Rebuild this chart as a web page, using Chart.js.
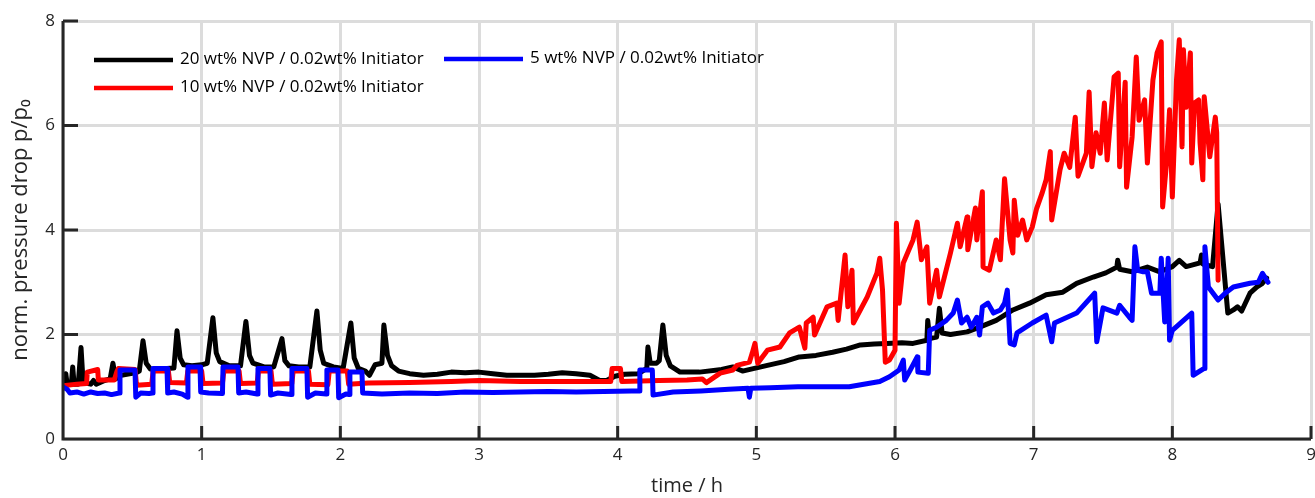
<!DOCTYPE html>
<html>
<head>
<meta charset="utf-8">
<script src="https://cdn.jsdelivr.net/npm/chart.js@4.4.1/dist/chart.umd.min.js"></script>
<style>
  html, body { margin: 0; padding: 0; background: #fff; }
  #wrap { width: 1315px; height: 498px; position: relative; }
</style>
</head>
<body>
<div id="wrap"><canvas id="pressure"></canvas></div>
<script>
// norm. pressure drop over time, three NVP concentrations

const xTicks = [0, 1, 2, 3, 4, 5, 6, 7, 8, 9];
const yTicks = [0, 2, 4, 6, 8];

const labelBlack = '20 wt% NVP / 0.02wt% Initiator';
const labelRed = '10 wt% NVP / 0.02wt% Initiator';
const labelBlue = '5 wt% NVP / 0.02wt% Initiator';

// 20 wt% NVP
const timeBlack = [0, 0.01, 0.02, 0.03, 0.06, 0.07, 0.08, 0.11, 0.13, 0.145, 0.2, 0.22, 0.24, 0.3, 0.34, 0.36, 0.38, 0.42, 0.48, 0.53, 0.55,
  0.577, 0.6, 0.63, 0.68, 0.75, 0.8, 0.822, 0.845, 0.87, 0.93, 1.0, 1.04, 1.081, 1.105, 1.13, 1.2, 1.28, 1.319, 1.345, 1.37, 1.45, 1.52,
  1.579, 1.6, 1.63, 1.7, 1.78, 1.831, 1.855, 1.88, 1.95, 2.02, 2.076, 2.1, 2.13, 2.18, 2.21, 2.25, 2.3, 2.314, 2.34, 2.37, 2.42, 2.5,
  2.6, 2.7, 2.8, 2.9, 3.0, 3.1, 3.2, 3.3, 3.4, 3.5, 3.6, 3.7, 3.8, 3.87, 3.92, 3.98, 4.05, 4.15, 4.21, 4.218, 4.235, 4.28, 4.3, 4.326,
  4.35, 4.38, 4.45, 4.59, 4.75, 4.83, 4.9, 5.08, 5.2, 5.31, 5.43, 5.55, 5.65, 5.75, 5.85, 5.94, 6.05, 6.13, 6.23, 6.236, 6.25, 6.3,
  6.32, 6.34, 6.4, 6.52, 6.61, 6.73, 6.85, 6.97, 7.09, 7.21, 7.31, 7.43, 7.52, 7.6, 7.606, 7.62, 7.71, 7.82, 7.91, 8.0, 8.05, 8.1,
  8.2, 8.21, 8.22, 8.29, 8.33, 8.4, 8.44, 8.47, 8.5, 8.56, 8.61, 8.65, 8.68];
const valueBlack = [1.05, 1.08, 1.25, 1.05, 1.05, 1.38, 1.05, 1.05, 1.75, 1.08, 1.05, 1.12, 1.05, 1.12, 1.15, 1.45, 1.15, 1.22, 1.25, 1.27, 1.3,
  1.88, 1.45, 1.34, 1.33, 1.35, 1.36, 2.07, 1.55, 1.42, 1.4, 1.42, 1.45, 2.32, 1.65, 1.48, 1.4, 1.4, 2.25, 1.6, 1.45, 1.38, 1.38,
  1.92, 1.5, 1.4, 1.38, 1.38, 2.45, 1.7, 1.45, 1.38, 1.35, 2.22, 1.55, 1.35, 1.3, 1.22, 1.42, 1.45, 2.18, 1.6, 1.4, 1.3, 1.25,
  1.22, 1.24, 1.28, 1.27, 1.28, 1.25, 1.22, 1.22, 1.22, 1.24, 1.27, 1.25, 1.22, 1.12, 1.12, 1.2, 1.24, 1.25, 1.35, 1.76, 1.45, 1.45, 1.5, 2.18,
  1.6, 1.4, 1.28, 1.28, 1.33, 1.38, 1.3, 1.41, 1.48, 1.57, 1.6, 1.66, 1.72, 1.8, 1.82, 1.83, 1.84, 1.83, 1.89, 2.27, 1.92, 1.95,
  2.5, 2.03, 2.0, 2.05, 2.14, 2.27, 2.47, 2.6, 2.76, 2.81, 2.98, 3.1, 3.18, 3.29, 3.42, 3.25, 3.2, 3.29, 3.2, 3.3, 3.42, 3.3,
  3.37, 3.52, 3.35, 3.3, 4.5, 2.41, 2.47, 2.53, 2.45, 2.79, 2.91, 2.98, 3.08];

// 10 wt% NVP
const timeRed = [0, 0.1, 0.17, 0.175, 0.25, 0.255, 0.37, 0.39, 0.4, 0.52, 0.53, 0.64, 0.65, 0.76, 0.77, 0.89, 0.9, 1.0, 1.01, 1.15, 1.16,
  1.27, 1.28, 1.4, 1.41, 1.5, 1.51, 1.65, 1.66, 1.77, 1.78, 1.91, 1.92, 2.05, 2.06, 2.2, 2.5, 2.8, 3.0, 3.3, 3.6, 3.8, 3.95, 3.96,
  4.02, 4.03, 4.3, 4.5, 4.61, 4.64, 4.74, 4.83, 4.86, 4.95, 4.97, 4.99, 5.01, 5.08, 5.17, 5.24, 5.31, 5.35, 5.36, 5.41, 5.42, 5.51,
  5.58, 5.59, 5.64, 5.66, 5.69, 5.7, 5.8, 5.87, 5.89, 5.91, 5.93, 5.96, 6.0, 6.01, 6.03, 6.06, 6.13, 6.16, 6.19, 6.23, 6.25, 6.3,
  6.32, 6.4, 6.45, 6.47, 6.52, 6.525, 6.58, 6.59, 6.63, 6.635, 6.68, 6.73, 6.76, 6.79, 6.83, 6.85, 6.86, 6.885, 6.92, 6.95, 6.99,
  7.02, 7.06, 7.09, 7.12, 7.13, 7.19, 7.22, 7.26, 7.3, 7.32, 7.38, 7.4, 7.42, 7.45, 7.48, 7.51, 7.53, 7.58, 7.61, 7.62, 7.66, 7.67,
  7.71, 7.74, 7.76, 7.8, 7.82, 7.86, 7.89, 7.92, 7.93, 7.96, 7.98, 8.0, 8.03, 8.05, 8.07, 8.08, 8.1, 8.13, 8.14, 8.16, 8.19, 8.2,
  8.22, 8.23, 8.27, 8.31, 8.32, 8.33];
const valueRed = [1.02, 1.05, 1.06, 1.28, 1.33, 1.13, 1.13, 1.3, 1.35, 1.33, 1.03, 1.05, 1.3, 1.3, 1.08, 1.07, 1.3, 1.3, 1.06, 1.07, 1.3,
  1.3, 1.06, 1.07, 1.3, 1.3, 1.05, 1.06, 1.3, 1.3, 1.05, 1.04, 1.3, 1.3, 1.05, 1.07, 1.08, 1.1, 1.12, 1.1, 1.1, 1.1, 1.1, 1.35,
  1.35, 1.1, 1.12, 1.13, 1.15, 1.08, 1.26, 1.32, 1.41, 1.47, 1.64, 1.83, 1.45, 1.7, 1.76, 2.03, 2.14, 1.74, 2.22, 2.33, 1.99, 2.53,
  2.6, 2.27, 3.52, 2.53, 3.23, 2.22, 2.72, 3.18, 3.46, 2.85, 1.47, 1.51, 1.7, 4.13, 2.6, 3.37, 3.81, 4.15, 3.43, 3.68, 2.6, 3.23,
  2.72, 3.56, 4.13, 3.68, 4.25, 3.62, 4.42, 3.81, 4.73, 3.29, 3.23, 3.81, 3.43, 4.98, 3.81, 3.56, 4.57, 3.9, 4.19, 3.81, 4.06,
  4.4, 4.7, 4.96, 5.5, 4.19, 5.15, 5.47, 5.2, 6.16, 5.03, 5.47, 6.64, 5.21, 5.86, 5.47, 6.43, 5.34, 6.93, 7.0, 5.21, 6.83, 4.82,
  5.78, 7.31, 6.1, 6.49, 5.28, 6.87, 7.39, 7.6, 4.44, 5.34, 6.3, 4.63, 6.87, 7.64, 5.59, 7.45, 6.35, 7.39, 5.28, 6.43, 6.49, 5.67,
  4.96, 6.55, 5.4, 6.16, 5.86, 3.04];

// 5 wt% NVP
const timeBlue = [0, 0.03, 0.05, 0.1, 0.15, 0.2, 0.25, 0.3, 0.35, 0.405, 0.411, 0.519, 0.525, 0.56, 0.62, 0.645, 0.649, 0.75, 0.755, 0.8,
  0.86, 0.897, 0.901, 0.988, 0.993, 1.05, 1.15, 1.154, 1.262, 1.267, 1.32, 1.4, 1.406, 1.492, 1.497, 1.55, 1.645, 1.651, 1.759,
  1.764, 1.82, 1.898, 1.903, 1.983, 1.988, 2.04, 2.064, 2.069, 2.156, 2.161, 2.3, 2.5, 2.7, 2.9, 3.1, 3.3, 3.5, 3.7, 3.9, 4.1, 4.155,
  4.16, 4.25, 4.255, 4.4, 4.6, 4.8, 4.94, 4.95, 4.96, 5.1, 5.3, 5.5, 5.67, 5.89, 5.96, 6.03, 6.06, 6.07, 6.11, 6.16, 6.165, 6.24,
  6.25, 6.3, 6.37, 6.42, 6.45, 6.48, 6.52, 6.55, 6.59, 6.61, 6.63, 6.67, 6.71, 6.76, 6.79, 6.81, 6.83, 6.86, 6.88, 6.99, 7.09, 7.13,
  7.15, 7.31, 7.44, 7.455, 7.5, 7.6, 7.62, 7.69, 7.71, 7.73, 7.75, 7.79, 7.82, 7.85, 7.91, 7.92, 7.945, 7.96, 7.97, 7.98, 8.0, 8.14,
  8.15, 8.23, 8.235, 8.26, 8.33, 8.39, 8.44, 8.56, 8.62, 8.65, 8.69];
const valueBlue = [1.0, 0.95, 0.88, 0.9, 0.86, 0.9, 0.87, 0.88, 0.85, 0.88, 1.32, 1.32, 0.8, 0.88, 0.87, 0.88, 1.35, 1.35, 0.88, 0.9,
  0.86, 0.8, 1.38, 1.38, 0.9, 0.88, 0.87, 1.38, 1.38, 0.88, 0.9, 0.86, 1.35, 1.35, 0.84, 0.88, 0.85, 1.35, 1.35, 0.8, 0.88, 0.86,
  1.32, 1.32, 0.79, 0.86, 0.85, 1.28, 1.28, 0.88, 0.86, 0.88, 0.87, 0.9, 0.89, 0.9, 0.91, 0.9, 0.91, 0.92, 0.92, 1.32, 1.32, 0.84,
  0.9, 0.92, 0.95, 0.97, 0.8, 0.97, 0.98, 1.0, 1.0, 1.0, 1.1, 1.19, 1.32, 1.51, 1.13, 1.32, 1.57, 1.28, 1.26, 2.08, 2.14, 2.27, 2.41,
  2.66, 2.22, 2.33, 2.14, 2.33, 1.99, 2.53, 2.6, 2.41, 2.47, 2.6, 2.85, 1.83, 1.8, 2.03, 2.22, 2.37, 1.86, 2.22, 2.41, 2.79, 1.86,
  2.51, 2.41, 2.56, 2.33, 2.27, 3.68, 3.23, 3.2, 3.2, 2.79, 2.79, 3.46, 2.24, 2.79, 3.46, 1.89, 2.08, 2.41, 1.22, 1.35, 3.68, 2.91,
  2.66, 2.81, 2.91, 2.98, 3.0, 3.17, 3.0];

const inkColor = '#262626';
const gridColor = '#dcdcdc';

function toPoints(times, values) {
  return times.map((t, i) => ({ x: t, y: values[i] }));
}

// MATLAB-style inside ticks, axis lines and legend drawn on top
const frameAndLegend = {
  id: 'frameAndLegend',
  afterDraw(chart) {
    const ctx = chart.ctx;
    const area = chart.chartArea;
    const xs = chart.scales.x;
    const ys = chart.scales.y;
    ctx.save();
    ctx.strokeStyle = inkColor;
    ctx.lineWidth = 3;
    ctx.lineCap = 'butt';
    ctx.beginPath();
    ctx.moveTo(area.left, area.top);
    ctx.lineTo(area.left, area.bottom);
    ctx.lineTo(area.right, area.bottom);
    xTicks.forEach(v => {
      const px = xs.getPixelForValue(v);
      ctx.moveTo(px, area.bottom);
      ctx.lineTo(px, area.bottom - 13);
    });
    yTicks.forEach(v => {
      const py = ys.getPixelForValue(v);
      ctx.moveTo(area.left, py);
      ctx.lineTo(area.left + 15, py);
    });
    ctx.stroke();

    const entries = [
      { label: labelBlack, color: '#000000', x: 94, y: 60 },
      { label: labelRed, color: '#ff0000', x: 94, y: 88 },
      { label: labelBlue, color: '#0000ff', x: 444, y: 59 }
    ];
    ctx.font = '17px "Open Sans"';
    ctx.textBaseline = 'middle';
    ctx.textAlign = 'left';
    entries.forEach(e => {
      ctx.strokeStyle = e.color;
      ctx.lineWidth = 4.5;
      ctx.beginPath();
      ctx.moveTo(e.x, e.y);
      ctx.lineTo(e.x + 79, e.y);
      ctx.stroke();
      ctx.fillStyle = '#000';
      ctx.fillText(e.label, e.x + 86, e.y - 1);
    });
    ctx.restore();
  }
};

const lineStyle = {
  showLine: true,
  pointRadius: 0,
  borderWidth: 5,
  tension: 0,
  fill: false,
  borderJoinStyle: 'round',
  borderCapStyle: 'round'
};

const data = {
  datasets: [
    Object.assign({ label: labelBlack, data: toPoints(timeBlack, valueBlack), borderColor: '#000000', order: 3 }, lineStyle),
    Object.assign({ label: labelRed, data: toPoints(timeRed, valueRed), borderColor: '#ff0000', order: 2 }, lineStyle),
    Object.assign({ label: labelBlue, data: toPoints(timeBlue, valueBlue), borderColor: '#0000ff', order: 1 }, lineStyle)
  ]
};

const config = {
  type: 'scatter',
  data: data,
  options: {
    responsive: true,
    maintainAspectRatio: false,
    animation: false,
    layout: { padding: { top: 21, right: 4, left: 0, bottom: 0 } },
    plugins: {
      legend: { display: false },
      tooltip: { enabled: false }
    },
    scales: {
      x: {
        type: 'linear',
        min: 0,
        max: 9,
        afterFit: s => { s.height = 59; s.paddingLeft = 0; s.paddingRight = 0; },
        afterBuildTicks: s => { s.ticks = xTicks.map(v => ({ value: v })); },
        grid: { color: gridColor, lineWidth: 3, drawTicks: false },
        border: { display: false },
        ticks: { color: inkColor, padding: 6, font: { family: 'Open Sans', size: 17 } },
        title: {
          display: true,
          text: 'time / h',
          color: inkColor,
          font: { family: 'Open Sans', size: 20, lineHeight: 1.2 },
          padding: { top: 0, bottom: 0 }
        }
      },
      y: {
        type: 'linear',
        min: 0,
        max: 8,
        afterFit: s => { s.width = 63; s.paddingTop = 0; s.paddingBottom = 0; },
        afterBuildTicks: s => { s.ticks = yTicks.map(v => ({ value: v })); },
        grid: { color: gridColor, lineWidth: 3, drawTicks: false },
        border: { display: false },
        ticks: { color: inkColor, padding: 8, font: { family: 'Open Sans', size: 17 } },
        title: {
          display: true,
          text: 'norm. pressure drop p/p\u2080',
          color: inkColor,
          font: { family: 'Open Sans', size: 22, lineHeight: 1.2 },
          padding: { top: 8, bottom: 0 }
        }
      }
    }
  },
  plugins: [frameAndLegend]
};

const chart = new Chart(document.getElementById('pressure'), config);
</script>
</body>
</html>
